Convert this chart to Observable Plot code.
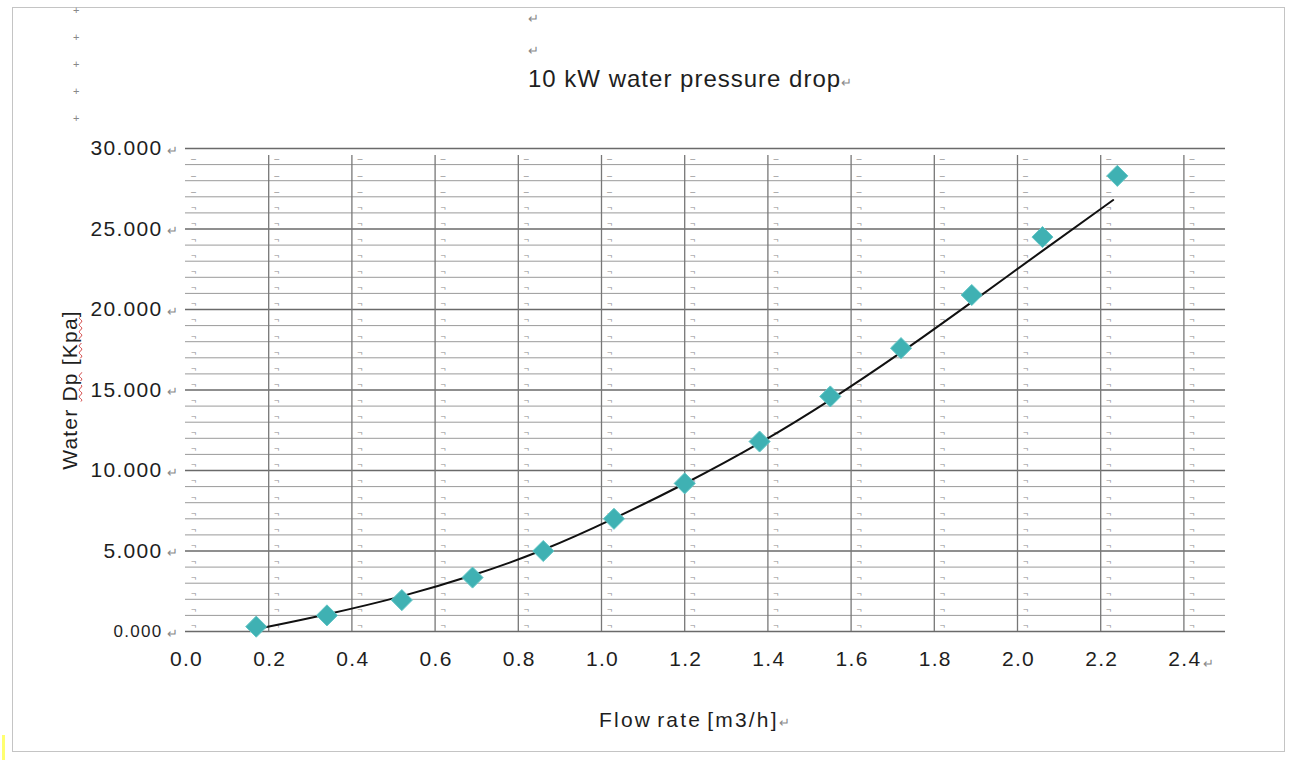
<!DOCTYPE html>
<html>
<head>
<meta charset="utf-8">
<script src="https://cdn.jsdelivr.net/npm/d3@7"></script>
<script src="https://cdn.jsdelivr.net/npm/@observablehq/plot@0.6"></script>
<style>
  html, body { margin: 0; padding: 0; background: #fff; }
  #wrap { position: relative; width: 1294px; height: 760px; overflow: hidden; font-family: "Liberation Sans", Arial, sans-serif; color: #1e1e1e; }
  #wrap svg { position: absolute; left: 0; top: 0; }
  .abs { position: absolute; white-space: nowrap; }
  .pm { color: #8a8a8a; font-size: 13px; letter-spacing: 0; }
  .frame { position: absolute; left: 12px; top: 7px; width: 1273px; height: 745px; border: 1px solid #c4c4c4; box-sizing: border-box; }
  .spell { text-decoration: underline wavy #d04040; text-decoration-thickness: 1px; }
</style>
</head>
<body>
<div id="wrap">
  <div class="frame"></div>
</div>
<script>
// ---- data ----
const flowRate = [0.17, 0.34, 0.52, 0.69, 0.86, 1.03, 1.20, 1.38, 1.55, 1.72, 1.89, 2.06, 2.24];
const waterDp  = [0.3, 1.0, 1.95, 3.35, 5.0, 7.0, 9.2, 11.8, 14.6, 17.6, 20.9, 24.5, 28.3];
const trendFlow = [0.18, 0.34, 0.52, 0.69, 0.86, 1.03, 1.20, 1.38, 1.55, 1.72, 1.89, 2.06, 2.23];
const trendDp   = [0.2, 1.05, 2.15, 3.45, 5.0, 7.0, 9.15, 11.65, 14.35, 17.3, 20.45, 23.65, 26.8];
const xTicks = [0.0, 0.2, 0.4, 0.6, 0.8, 1.0, 1.2, 1.4, 1.6, 1.8, 2.0, 2.2, 2.4];
const yTicks = [0, 5, 10, 15, 20, 25, 30];
const yGridLines = [0,1,2,3,4,5,6,7,8,9,10,11,12,13,14,15,16,17,18,19,20,21,22,23,24,25,26,27,28,29,30];
const xGridLines = [0.2, 0.4, 0.6, 0.8, 1.0, 1.2, 1.4, 1.6, 1.8, 2.0, 2.2, 2.4];
const titleText = "10 kW water pressure drop";
const xLabel = "Flow rate [m3/h]";

const points = flowRate.map((x, i) => ({x, y: waterDp[i]}));
const trend = trendFlow.map((x, i) => ({x, y: trendDp[i]}));
const cells = [];
for (const c of xTicks) for (const r of yGridLines.slice(0, 30)) cells.push({c, r});

const chart = Plot.plot({
  width: 1294,
  height: 760,
  marginLeft: 185,
  marginRight: 69,
  marginTop: 148,
  marginBottom: 129,
  x: {domain: [0, 2.5], axis: null},
  y: {domain: [0, 30], axis: null},
  style: {fontFamily: "'Liberation Sans', Arial, sans-serif", background: "transparent", color: "#1e1e1e"},
  marks: [
    // table-like cell marks
    Plot.text(cells, {x: "c", y: "r", text: d => d.r >= 27 ? "–" : "¬", dx: 8, dy: -5, fontSize: 9, fill: "#8a8a8a"}),
    // horizontal grid
    Plot.ruleY(yGridLines.filter(v => v % 5 !== 0), {y: d => d, stroke: "#9a9a9a", strokeWidth: 1}),
    Plot.ruleY(yGridLines.filter(v => v % 5 === 0), {y: d => d, stroke: "#6a6a6a", strokeWidth: 1.4}),
    // vertical grid (extending below the baseline as ticks)
    Plot.ruleX(xGridLines, {x: d => d, y1: 0, y2: 30, insetBottom: -7, stroke: "#777", strokeWidth: 1.3}),
    // trend line
    Plot.line(trend, {x: "x", y: "y", curve: "basis", stroke: "#111", strokeWidth: 2}),
    // measured points
    Plot.dot(points, {x: "x", y: "y", symbol: "diamond2", r: 9.5, fill: "#3fb1b3", stroke: "#62c6c6", strokeWidth: 1}),
    // x tick labels
    Plot.text(xTicks, {x: d => d, frameAnchor: "bottom", dy: 34, dx: 1, text: d => d.toFixed(1), fontSize: 21, fill: "#1e1e1e"}),
    Plot.text([2.4], {x: d => d, frameAnchor: "bottom", dy: 36, dx: 25, text: () => "↵", fontSize: 13, fill: "#888"}),
    // y tick labels
    Plot.text(yTicks, {y: d => d, frameAnchor: "left", dx: -23, textAnchor: "end", text: d => d.toFixed(3), fontSize: d => d === 0 ? 17 : 21, fill: "#1e1e1e"}),
    Plot.text(yTicks, {y: d => d, frameAnchor: "left", dx: -19, dy: 2, text: () => "↵", fontSize: 13, fill: "#888"})
  ]
});
chart.querySelectorAll("text").forEach(t => {
  const fs = parseFloat(t.getAttribute("font-size") || (t.parentNode && t.parentNode.getAttribute("font-size")) || 0);
  if (fs >= 15) t.style.letterSpacing = "1.3px";
});
const wrap = document.getElementById("wrap");
wrap.appendChild(chart);

function addDiv(html, css, cls) {
  const d = document.createElement("div");
  d.className = "abs" + (cls ? " " + cls : "");
  d.innerHTML = html;
  Object.assign(d.style, css);
  wrap.appendChild(d);
  return d;
}
// paragraph marks / table handles
[4, 31, 58, 85, 112].forEach(t => addDiv("+", {left: "73px", top: t + "px", fontSize: "11px", color: "#888"}));
addDiv("↵", {left: "528px", top: "11px", fontSize: "13px", color: "#888"});
addDiv("↵", {left: "528px", top: "43px", fontSize: "13px", color: "#888"});
// title
addDiv(titleText + '<span class="pm">↵</span>', {left: "528px", top: "65px", fontSize: "24px", letterSpacing: "1px"});
// x label
addDiv(xLabel + '<span class="pm">↵</span>', {left: "599px", top: "708px", fontSize: "21px", letterSpacing: "2.2px", wordSpacing: "-3px"});
// y label
addDiv('Water <span class="spell">Dp</span> [<span class="spell">Kpa</span>]', {left: "70px", top: "390px", fontSize: "21px", letterSpacing: "1.2px", transform: "translate(-50%, -50%) rotate(-90deg)"});
// yellow marker at bottom-left
addDiv("", {left: "2px", top: "735px", width: "3px", height: "25px", background: "#ffff70"});
</script>
</body>
</html>
